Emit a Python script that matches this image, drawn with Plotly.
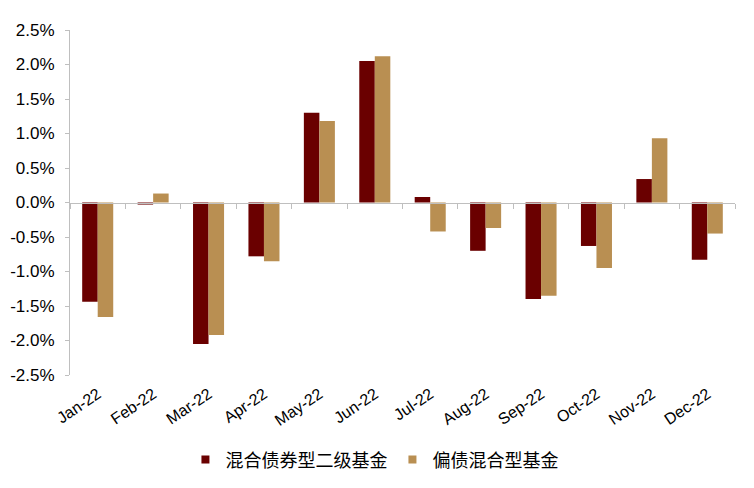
import plotly.graph_objects as go

categories = ["Jan-22", "Feb-22", "Mar-22", "Apr-22", "May-22", "Jun-22",
              "Jul-22", "Aug-22", "Sep-22", "Oct-22", "Nov-22", "Dec-22"]
series1_name = "混合债券型二级基金"
series1 = [-1.44, -0.03, -2.05, -0.78, 1.30, 2.05, 0.08, -0.70, -1.40, -0.63, 0.34, -0.83]
series2_name = "偏债混合型基金"
series2 = [-1.66, 0.13, -1.92, -0.85, 1.18, 2.12, -0.42, -0.37, -1.35, -0.95, 0.93, -0.45]
y_ticks = [-2.5, -2.0, -1.5, -1.0, -0.5, 0.0, 0.5, 1.0, 1.5, 2.0, 2.5]

color1 = "#6A0000"
color2 = "#B98F52"
font_family = "Liberation Sans, Arial, Noto Sans CJK SC, sans-serif"

fig = go.Figure()
fig.add_trace(go.Bar(x=categories, y=series1, name=series1_name, showlegend=False,
                     marker=dict(color=color1, line=dict(width=0))))
fig.add_trace(go.Bar(x=categories, y=series2, name=series2_name, showlegend=False,
                     marker=dict(color=color2, line=dict(width=0))))
# legend entries with small square swatches
for nm, col in [(series1_name, color1), (series2_name, color2)]:
    fig.add_trace(go.Scatter(x=[None], y=[None], mode="markers", name=nm,
                             marker=dict(symbol="square", size=8, color=col),
                             hoverinfo="skip"))

# zero-line axis with boundary ticks
n = len(categories)
boundaries = [i - 0.5 for i in range(n + 1)]
fig.add_trace(go.Scatter(x=[None], y=[None], xaxis="x2", yaxis="y",
                         showlegend=False, hoverinfo="skip"))

fig.update_layout(
    width=754, height=488,
    margin=dict(l=62, r=27, t=22, b=121),
    paper_bgcolor="white", plot_bgcolor="white",
    font=dict(family=font_family, size=16, color="#000000"),
    barmode="group", bargap=0.44, bargroupgap=0,
    xaxis=dict(type="category", showline=False, ticks="", showgrid=False,
               tickangle=-34, tickfont=dict(size=16), zeroline=False,
               automargin=False, ticklabelstandoff=6),
    xaxis2=dict(overlaying="x", anchor="free", position=0.5, range=[-0.5, n - 0.5],
                tickvals=boundaries, showticklabels=False, ticks="outside",
                ticklen=5, tickcolor="#BFBFBF", showline=True, linecolor="#BFBFBF",
                linewidth=1, showgrid=False, zeroline=False, side="bottom",
                automargin=False),
    yaxis=dict(range=[-2.5, 2.5], tickvals=y_ticks,
               ticktext=[f"{v:.1f}%" for v in y_ticks],
               showline=True, linecolor="#BFBFBF", linewidth=1,
               ticks="outside", ticklen=4, tickcolor="#BFBFBF",
               showgrid=False, zeroline=False, tickfont=dict(size=17),
               automargin=False, ticklabelstandoff=7),
    legend=dict(orientation="h", xref="container", x=0.486, xanchor="center",
                yref="container", y=0.074, yanchor="middle",
                font=dict(size=18), itemwidth=30, traceorder="normal",
                tracegroupgap=0),
)

fig.write_html("out.html")
